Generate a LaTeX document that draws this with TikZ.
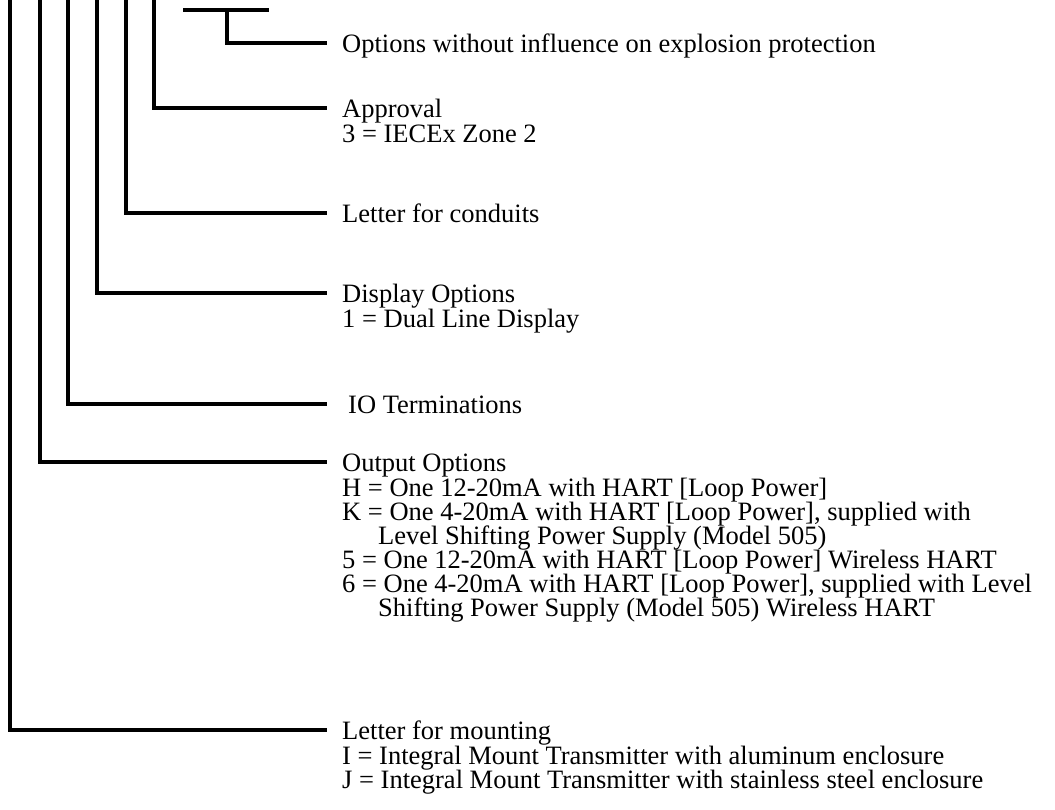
\documentclass[tikz,border=0pt]{standalone}
\usepackage{fontspec}
\setmainfont{Liberation Serif}
\usetikzlibrary{positioning}
\newcommand\labelfont{\fontsize{26.5}{24}\selectfont\lineskiplimit=-30pt\relax}
\tikzset{
	lead/.style={line width=3.2pt,line cap=butt},
	head/.style={anchor=west,inner xsep=15pt,inner ysep=0pt,text height=25.2pt,text depth=7.2pt},
	optlist/.style={anchor=north west,inner sep=0pt,align=left},
}
\begin{document}
\begin{tikzpicture}[x=1pt,y=-1pt,line join=miter,font=\labelfont]
	\def\xend{327}
	\def\ind{\hspace*{36pt}}
	\useasboundingbox (0,0) rectangle (1055,809);
	% headings
	\node [head] (opts) at (\xend,43) {Options without influence on explosion protection};
	\node [head] (appr) at (\xend,108) {Approval};
	\node [head] (cond) at (\xend,213) {Letter for conduits};
	\node [head] (disp) at (\xend,293) {Display Options};
	\node [head,inner xsep=21pt] (iot) at (\xend,404) {IO Terminations};
	\node [head] (outp) at (\xend,462) {Output Options};
	\node [head] (mnt) at (\xend,730) {Letter for mounting};
	% option lists
	\node [optlist] (apprlist) at ([xshift=15pt]appr.south west) {\strut 3 = IECEx Zone 2};
	\node [optlist] (displist) at ([xshift=15pt]disp.south west) {\strut 1 = Dual Line Display};
	\node [optlist] (outplist) at ([xshift=15pt]outp.south west) {\strut H = One 12-20mA with HART [Loop Power]\\
		K = One 4-20mA with HART [Loop Power], supplied with\\
		\ind Level Shifting Power Supply (Model 505)\\
		5 = One 12-20mA with HART [Loop Power] Wireless HART\\
		6 = One 4-20mA with HART [Loop Power], supplied with Level\\
		\ind Shifting Power Supply (Model 505) Wireless HART};
	\node [optlist] (mntlist) at ([xshift=15pt]mnt.south west) {\strut I = Integral Mount Transmitter with aluminum enclosure\\
		J = Integral Mount Transmitter with stainless steel enclosure};
	% tops of the leads
	\coordinate (tmnt) at (10,-2);
	\coordinate (toutp) at (40,-2);
	\coordinate (tiot) at (68,-2);
	\coordinate (tdisp) at (97,-2);
	\coordinate (tcond) at (126,-2);
	\coordinate (tappr) at (154,-2);
	\coordinate (topts) at (227,10);
	% leads
	\draw [lead] (183,10)--(269,10);
	\draw [lead] (topts) |- (opts.west);
	\draw [lead] (tappr) |- (appr.west);
	\draw [lead] (tcond) |- (cond.west);
	\draw [lead] (tdisp) |- (disp.west);
	\draw [lead] (tiot) |- (iot.west);
	\draw [lead] (toutp) |- (outp.west);
	\draw [lead] (tmnt) |- (mnt.west);
\end{tikzpicture}
\end{document}
